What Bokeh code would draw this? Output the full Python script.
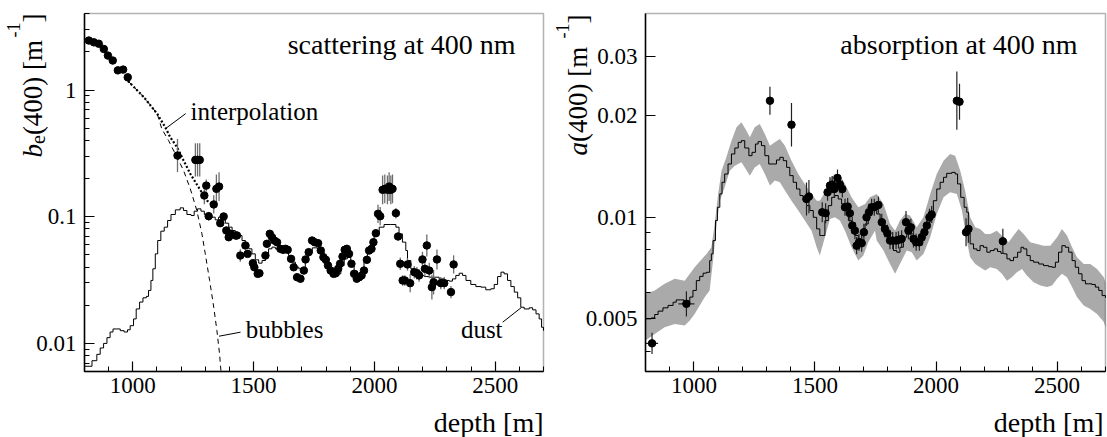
import math
from bokeh.plotting import figure
from bokeh.models import (Range1d, FixedTicker, CustomJSTickFormatter, Label, LinearAxis,
                          LogAxis, BoxAnnotation)
from bokeh.layouts import row
from bokeh.embed import file_html
from bokeh.resources import INLINE

SERIF = "Liberation Serif"

# ---------------- axes ----------------
DEPTH_RANGE = (800, 2700)
X_MAJOR = [1000, 1500, 2000, 2500]
X_MINOR = [800, 900, 1100, 1200, 1300, 1400, 1600, 1700, 1800, 1900,
           2100, 2200, 2300, 2400, 2600, 2700]

SCAT_Y_RANGE = (0.006, 4.02)
SCAT_Y_MAJOR = [0.01, 0.1, 1]
SCAT_Y_MINOR = [0.006, 0.007, 0.008, 0.009, 0.02, 0.03, 0.04, 0.05, 0.06, 0.07, 0.08, 0.09,
                0.2, 0.3, 0.4, 0.5, 0.6, 0.7, 0.8, 0.9, 2, 3, 4]
ABS_Y_RANGE = (0.00349, 0.0402)
ABS_Y_MAJOR = [0.005, 0.01, 0.02, 0.03]
ABS_Y_MINOR = [0.004, 0.006, 0.007, 0.008, 0.009]

# ---------------- scattering panel ----------------
DUST = [(800, 0.0066), (831, 0.0073), (851, 0.0082), (865, 0.0092), (879, 0.0100), (893, 0.0111),
        (906, 0.0123), (918, 0.0130), (934, 0.0130), (948, 0.0126), (964, 0.0123), (978, 0.0128),
        (989, 0.0138), (1003, 0.0156), (1014, 0.0187), (1028, 0.0212), (1042, 0.0229), (1056, 0.0235),
        (1065, 0.0262), (1075, 0.0314), (1083, 0.0388), (1093, 0.0509), (1103, 0.0649), (1116, 0.0769),
        (1130, 0.0827), (1144, 0.0933), (1158, 0.1041), (1176, 0.1133), (1196, 0.1175), (1210, 0.1119),
        (1224, 0.1041), (1241, 0.1022), (1254, 0.1106), (1268, 0.1154), (1282, 0.1106), (1296, 0.1041),
        (1310, 0.0992), (1324, 0.0992), (1341, 0.0945), (1355, 0.0992), (1369, 0.0945), (1383, 0.0889),
        (1397, 0.0827), (1411, 0.0778), (1424, 0.0724), (1438, 0.0711), (1452, 0.0649), (1466, 0.0611),
        (1480, 0.0558), (1493, 0.0509), (1507, 0.0457), (1521, 0.0430), (1535, 0.0451), (1549, 0.0509),
        (1562, 0.0558), (1576, 0.0575), (1590, 0.0558), (1604, 0.0548), (1618, 0.0541), (1631, 0.0525),
        (1645, 0.0494), (1659, 0.0438), (1673, 0.0400), (1687, 0.0388), (1700, 0.0381), (1714, 0.0450),
        (1728, 0.0520), (1743, 0.0568), (1764, 0.0558), (1778, 0.0525), (1792, 0.0474), (1805, 0.0419),
        (1819, 0.0376), (1833, 0.0337), (1847, 0.0354), (1861, 0.0412), (1875, 0.0465), (1888, 0.0479),
        (1902, 0.0419), (1916, 0.0372), (1930, 0.0354), (1944, 0.0372), (1957, 0.0451), (1971, 0.0541),
        (1985, 0.0630), (1999, 0.0732), (2020, 0.0827), (2040, 0.0868), (2068, 0.0868), (2089, 0.0827),
        (2102, 0.0732), (2116, 0.0630), (2130, 0.0541), (2137, 0.0451), (2151, 0.0388), (2165, 0.0354),
        (2185, 0.0344), (2206, 0.0337), (2227, 0.0333), (2247, 0.0333), (2268, 0.0323), (2289, 0.0314),
        (2310, 0.0310), (2323, 0.0323), (2337, 0.0344), (2351, 0.0358), (2365, 0.0344), (2379, 0.0314),
        (2399, 0.0292), (2420, 0.0281), (2441, 0.0278), (2461, 0.0265), (2482, 0.0270), (2496, 0.0292),
        (2510, 0.0337), (2524, 0.0365), (2537, 0.0354), (2551, 0.0314), (2565, 0.0281), (2579, 0.0254),
        (2593, 0.0229), (2606, 0.0193), (2620, 0.0187), (2641, 0.0191), (2655, 0.0184), (2669, 0.0171),
        (2682, 0.0156), (2692, 0.0134), (2700, 0.0126)]

BUBBLES = [(980, 1.18), (1046, 0.877), (1101, 0.649), (1120, 0.494), (1148, 0.399), (1183, 0.295),
           (1210, 0.232), (1238, 0.166), (1265, 0.112), (1286, 0.0733), (1300, 0.0509), (1318, 0.0313),
           (1335, 0.0193), (1348, 0.01265), (1359, 0.00828), (1365, 0.0060)]

INTERPOLATION = [(980, 1.18), (1046, 0.877), (1101, 0.649), (1134, 0.509), (1155, 0.424),
                 (1183, 0.354), (1210, 0.278), (1238, 0.218), (1272, 0.171), (1307, 0.134),
                 (1335, 0.1226)]

# (depth, b_e, relative error)
SCAT_POINTS = [(818, 2.46, .03), (839, 2.38, .03), (859, 2.32, .03), (880, 2.11, .03), (897, 1.87, .03),
               (917, 1.71, .03), (938, 1.43, .03), (960, 1.45, .03), (979, 1.26, .03),
               (1185, 0.304, .35), (1259, 0.281, .35), (1268, 0.281, .35), (1277, 0.281, .35),
               (1296, 0.147, .17), (1304, 0.176, .12), (1314, 0.101, .08), (1335, 0.125, .18),
               (1346, 0.166, .30), (1357, 0.173, .30), (1362, 0.0889, .07), (1376, 0.1004, .07),
               (1387, 0.0778, .07), (1397, 0.0689, .07), (1404, 0.0733, .07), (1425, 0.0711, .07),
               (1431, 0.0711, .07), (1445, 0.0494, .12), (1466, 0.0593, .07), (1475, 0.0509, .06),
               (1497, 0.0430, .06), (1503, 0.0399, .06), (1517, 0.0354, .06), (1524, 0.0358, .06),
               (1549, 0.0494, .06), (1555, 0.0611, .06), (1567, 0.0733, .06), (1576, 0.0689, .06),
               (1586, 0.0649, .06), (1597, 0.0629, .06), (1611, 0.0558, .06), (1622, 0.0548, .06),
               (1632, 0.0558, .06), (1641, 0.0548, .06), (1655, 0.0465, .06), (1666, 0.0399, .06),
               (1680, 0.0333, .06), (1694, 0.0324, .06), (1708, 0.0376, .06), (1715, 0.0460, .06),
               (1728, 0.0525, .06), (1742, 0.0649, .06), (1753, 0.0629, .06), (1767, 0.0618, .06),
               (1778, 0.0541, .06), (1789, 0.0479, .06), (1799, 0.0457, .06), (1808, 0.0412, .06),
               (1819, 0.0376, .06), (1831, 0.0354, .06), (1840, 0.0358, .06), (1850, 0.0388, .06),
               (1858, 0.0425, .06), (1868, 0.0485, .06), (1877, 0.0548, .06), (1886, 0.0558, .06),
               (1895, 0.0509, .06), (1905, 0.0425, .06), (1916, 0.0354, .06), (1927, 0.0324, .06),
               (1937, 0.0333, .06), (1947, 0.0344, .06), (1957, 0.0376, .06), (1969, 0.0457, .06),
               (1978, 0.0541, .06), (1988, 0.0558, .06), (1996, 0.0629, .06), (2006, 0.0741, .06),
               (2015, 0.1054, .18), (2024, 0.1009, .18), (2034, 0.163, .30), (2043, 0.166, .30),
               (2054, 0.163, .30), (2061, 0.173, .30), (2068, 0.163, .30), (2075, 0.166, .30),
               (2089, 0.1066, .10), (2098, 0.0698, .07), (2107, 0.0425, .12), (2117, 0.0314, .10),
               (2126, 0.0314, .10), (2137, 0.0420, .12), (2148, 0.0299, .18), (2165, 0.0365, .12),
               (2176, 0.0358, .12), (2185, 0.0344, .12), (2199, 0.0460, .15), (2209, 0.0388, .15),
               (2217, 0.0593, .22), (2227, 0.0376, .15), (2238, 0.0278, .25), (2245, 0.0304, .25),
               (2259, 0.0460, .20), (2275, 0.0299, .12), (2289, 0.0299, .12), (2317, 0.0254, .12),
               (2328, 0.0420, .18)]

# ---------------- absorption panel ----------------
ABS_CURVE = [(800, 0.00500), (824, 0.00503), (838, 0.00515), (852, 0.00527), (872, 0.00539), (893, 0.00548),
             (914, 0.00560), (927, 0.00569), (945, 0.00569), (959, 0.00564), (969, 0.00557), (983, 0.00580),
             (996, 0.00607), (1010, 0.00649), (1024, 0.00668), (1038, 0.00683), (1052, 0.00687), (1065, 0.00744),
             (1072, 0.00779), (1079, 0.00853), (1089, 0.00978), (1097, 0.01071), (1107, 0.01173), (1116, 0.01270),
             (1127, 0.01344), (1141, 0.01439), (1155, 0.01541), (1169, 0.01605), (1183, 0.01668), (1196, 0.01687),
             (1210, 0.01605), (1227, 0.01523), (1240, 0.01558), (1254, 0.01649), (1265, 0.01676), (1279, 0.01631),
             (1293, 0.01523), (1309, 0.01439), (1327, 0.01439), (1341, 0.01479), (1355, 0.01506), (1369, 0.01472),
             (1383, 0.01406), (1396, 0.01329), (1410, 0.01270), (1424, 0.01213), (1438, 0.01160), (1451, 0.01120),
             (1465, 0.01083), (1479, 0.01047), (1493, 0.01000), (1507, 0.00924), (1520, 0.00883), (1527, 0.00883),
             (1541, 0.00978), (1555, 0.01083), (1569, 0.01146), (1582, 0.01160), (1596, 0.01133), (1610, 0.01095),
             (1624, 0.01047), (1638, 0.00978), (1651, 0.00934), (1665, 0.00883), (1679, 0.00863), (1693, 0.00893),
             (1707, 0.00956), (1720, 0.01012), (1734, 0.01071), (1748, 0.01083), (1755, 0.01023), (1769, 0.00978),
             (1783, 0.00934), (1796, 0.00893), (1810, 0.00843), (1824, 0.00797), (1838, 0.00788), (1851, 0.00815),
             (1865, 0.00873), (1879, 0.00934), (1893, 0.00893), (1907, 0.00843), (1920, 0.00843), (1934, 0.00853),
             (1948, 0.00913), (1962, 0.00967), (1976, 0.01023), (1989, 0.01120), (2003, 0.01213), (2017, 0.01270),
             (2031, 0.01314), (2044, 0.01350), (2065, 0.01359), (2079, 0.01344), (2089, 0.01256), (2102, 0.01146),
             (2116, 0.01071), (2127, 0.01035), (2134, 0.00934), (2141, 0.00834), (2155, 0.00806), (2169, 0.00797),
             (2182, 0.00824), (2196, 0.00815), (2210, 0.00788), (2224, 0.00797), (2240, 0.00806), (2254, 0.00792),
             (2268, 0.00782), (2282, 0.00779), (2293, 0.00753), (2306, 0.00744), (2320, 0.00761), (2337, 0.00788),
             (2351, 0.00815), (2362, 0.00806), (2375, 0.00770), (2389, 0.00744), (2403, 0.00736), (2424, 0.00727),
             (2444, 0.00719), (2465, 0.00714), (2479, 0.00711), (2493, 0.00736), (2506, 0.00788), (2520, 0.00824),
             (2534, 0.00815), (2548, 0.00788), (2562, 0.00744), (2575, 0.00711), (2589, 0.00680), (2603, 0.00649),
             (2617, 0.00635), (2631, 0.00635), (2644, 0.00632), (2658, 0.00621), (2672, 0.00607), (2686, 0.00586),
             (2700, 0.00577)]

ABS_BAND_UPPER = [(800, 0.00593), (838, 0.00607), (879, 0.00635), (921, 0.00657), (962, 0.00649), (1003, 0.00711),
                  (1052, 0.00779), (1072, 0.00815), (1086, 0.00956), (1100, 0.01173), (1114, 0.01375), (1134, 0.01506),
                  (1155, 0.01687), (1176, 0.01848), (1196, 0.01912), (1217, 0.01806), (1231, 0.01726), (1251, 0.01848),
                  (1272, 0.01890), (1293, 0.01766), (1314, 0.01631), (1334, 0.01668), (1355, 0.01707), (1376, 0.01631),
                  (1403, 0.01472), (1431, 0.01344), (1458, 0.01256), (1486, 0.01173), (1507, 0.01120), (1520, 0.01120),
                  (1541, 0.01186), (1562, 0.01299), (1582, 0.01344), (1603, 0.01329), (1624, 0.01256), (1651, 0.01146),
                  (1679, 0.01071), (1707, 0.01095), (1727, 0.01146), (1755, 0.01173), (1783, 0.01095), (1810, 0.00956),
                  (1831, 0.00913), (1851, 0.00978), (1872, 0.01023), (1893, 0.01012), (1920, 0.00934), (1948, 0.01000),
                  (1976, 0.01173), (2003, 0.01344), (2031, 0.01472), (2058, 0.01541), (2079, 0.01523), (2100, 0.01375),
                  (2120, 0.01200), (2141, 0.01000), (2162, 0.00934), (2182, 0.00924), (2203, 0.00893), (2224, 0.00893),
                  (2251, 0.00913), (2279, 0.00873), (2300, 0.00843), (2320, 0.00883), (2341, 0.00924), (2362, 0.00893),
                  (2389, 0.00843), (2417, 0.00834), (2444, 0.00824), (2472, 0.00824), (2500, 0.00873), (2520, 0.00924),
                  (2541, 0.00883), (2562, 0.00815), (2582, 0.00761), (2610, 0.00727), (2637, 0.00727), (2665, 0.00703),
                  (2693, 0.00664), (2700, 0.00642)]

ABS_BAND_LOWER = [(800, 0.00431), (838, 0.00451), (879, 0.00472), (921, 0.00483), (962, 0.00478), (983, 0.00494),
                  (1003, 0.00517), (1045, 0.00580), (1065, 0.00607), (1079, 0.00744), (1093, 0.00934), (1107, 0.01120),
                  (1127, 0.01227), (1148, 0.01375), (1169, 0.01422), (1196, 0.01455), (1210, 0.01406), (1231, 0.01329),
                  (1251, 0.01406), (1272, 0.01439), (1293, 0.01344), (1314, 0.01242), (1334, 0.01285), (1355, 0.01270),
                  (1376, 0.01200), (1403, 0.01120), (1431, 0.01047), (1458, 0.00978), (1486, 0.00913), (1507, 0.00815),
                  (1520, 0.00770), (1541, 0.00873), (1562, 0.00989), (1582, 0.01000), (1603, 0.00978), (1624, 0.00913),
                  (1651, 0.00815), (1679, 0.00744), (1700, 0.00770), (1720, 0.00843), (1748, 0.00913), (1755, 0.00853),
                  (1783, 0.00797), (1810, 0.00727), (1831, 0.00680), (1851, 0.00727), (1879, 0.00797), (1900, 0.00788),
                  (1920, 0.00744), (1948, 0.00779), (1976, 0.00873), (2003, 0.01023), (2031, 0.01146), (2058, 0.01186),
                  (2086, 0.01173), (2107, 0.01047), (2127, 0.00853), (2141, 0.00761), (2162, 0.00727), (2182, 0.00711),
                  (2203, 0.00695), (2224, 0.00711), (2251, 0.00703), (2272, 0.00680), (2293, 0.00649), (2313, 0.00664),
                  (2334, 0.00687), (2355, 0.00703), (2375, 0.00672), (2403, 0.00642), (2431, 0.00628), (2458, 0.00621),
                  (2479, 0.00628), (2500, 0.00657), (2520, 0.00680), (2541, 0.00664), (2562, 0.00621), (2582, 0.00580),
                  (2610, 0.00548), (2637, 0.00535), (2665, 0.00517), (2693, 0.00489), (2700, 0.00472)]

# (depth, a, relative error)
ABS_POINTS = [(827, 0.00423, .075), (969, 0.00554, .09), (1314, 0.02216, .10), (1403, 0.01882, .16),
              (1465, 0.01133, .12), (1475, 0.01152, .12), (1530, 0.01035, .07), (1544, 0.01028, .07),
              (1552, 0.01186, .06), (1562, 0.01242, .06), (1571, 0.01250, .06), (1580, 0.01213, .06),
              (1593, 0.01308, .06), (1603, 0.01250, .06), (1613, 0.01213, .06), (1624, 0.01071, .06),
              (1635, 0.01076, .06), (1644, 0.01028, .06), (1654, 0.00945, .06), (1665, 0.00913, .06),
              (1672, 0.00824, .06), (1682, 0.00843, .06), (1693, 0.00838, .06), (1702, 0.00903, .06),
              (1713, 0.01000, .06), (1723, 0.01035, .06), (1734, 0.01071, .06), (1745, 0.01071, .06),
              (1762, 0.01088, .06), (1776, 0.00967, .06), (1789, 0.00924, .06), (1799, 0.00897, .06),
              (1810, 0.00853, .06), (1821, 0.00853, .06), (1835, 0.00853, .06), (1845, 0.00857, .06),
              (1858, 0.00863, .06), (1876, 0.00967, .08), (1886, 0.00913, .06), (1896, 0.00934, .06),
              (1907, 0.00863, .06), (1918, 0.00843, .06), (1931, 0.00843, .06), (1941, 0.00873, .06),
              (1952, 0.00903, .06), (1962, 0.00945, .06), (1973, 0.01000, .06), (1982, 0.01019, .06),
              (2086, 0.02216, .22), (2097, 0.02201, .13), (2124, 0.00903, .10), (2134, 0.00924, .10),
              (2276, 0.00849, .09)]
# horizontal (depth) errors: (depth, a, half width in m)
ABS_DEPTH_ERR = [(827, 0.00423, 25), (969, 0.00554, 33)]

TITLES = ["scattering at 400 nm", "absorption at 400 nm"]
X_LABEL = "depth [m]"

# ---------------- layout (pixels) ----------------
FIG_H = 437
LEFT_W, RIGHT_W = 546, 561
LEFT_BOX = (84, 13, 543, 371)     # left, top, right, bottom of the plotting box
RIGHT_BOX = (99, 13, 559, 371)
BASE_SHIFT = 0.29                 # renderer draws 'alphabetic' text this many em too low

# Times / Liberation Serif advance widths (1/1000 em)
GLYPH_W = {" ": 250, "(": 333, ")": 333, "-": 333, "0": 500, "1": 500, "4": 500,
           "[": 333, "]": 333, "a": 444, "b": 500, "e": 444, "m": 778}


def text_w(s, size, italic=False):
    w = 0
    for c in s:
        w += 500 if (italic and c in "ab") else GLYPH_W[c]
    return w * size / 1000.0


def unzip(pairs):
    return [p[0] for p in pairs], [p[1] for p in pairs]


def add_text(p, x, y, text, size, align="left", units="screen", style="normal", rotated=False):
    shift = BASE_SHIFT * size
    p.add_layout(Label(x=x, y=y, x_units=units, y_units=units, text=text,
                       x_offset=(-shift if rotated else 0), y_offset=(0 if rotated else shift),
                       text_font=SERIF, text_font_size=f"{size}px", text_font_style=style,
                       text_align=align, text_baseline="alphabetic",
                       angle=(math.pi / 2 if rotated else 0.0), text_color="black"))


def add_ylabel(p, bottom_pieces, top_pieces, x_base, y_bottom, y_top):
    y = y_bottom
    for t, s, st, dx in bottom_pieces:
        add_text(p, x_base + dx, y, t, s, align="left", style=st, rotated=True)
        y += text_w(t, s, st == "italic")
    y = y_top
    for t, s, st, dx in reversed(top_pieces):
        add_text(p, x_base + dx, y, t, s, align="right", style=st, rotated=True)
        y -= text_w(t, s, st == "italic")


def style_axis(ax, major, minor, standoff):
    ax.ticker = FixedTicker(ticks=major, minor_ticks=minor)
    ax.formatter = CustomJSTickFormatter(code="return String(tick);")
    ax.major_tick_in = 10
    ax.major_tick_out = 0
    ax.minor_tick_in = 5
    ax.minor_tick_out = 0
    ax.axis_line_width = 1.5
    ax.axis_line_color = "black"
    ax.major_tick_line_color = "black"
    ax.minor_tick_line_color = "black"
    ax.major_tick_line_width = 1.2
    ax.minor_tick_line_width = 1
    ax.major_label_text_font = SERIF
    ax.major_label_text_font_size = "23px"
    ax.major_label_text_color = "black"
    ax.major_label_standoff = standoff


def make_panel(W, box, y_range, y_major, y_minor):
    bl, bt, br, bb = box
    x0, x1 = DEPTH_RANGE
    per = (x1 - x0) / (br - bl)
    xr = Range1d(x0 - bl * per, x1 + (W - br) * per)
    l0, l1 = math.log10(y_range[0]), math.log10(y_range[1])
    lper = (l1 - l0) / (bb - bt)
    yr = Range1d(10 ** (l0 - (FIG_H - bb) * lper), 10 ** (l1 + bt * lper))
    p = figure(width=W, height=FIG_H, x_range=xr, y_range=yr, y_axis_type="log",
               x_axis_location=None, y_axis_location=None,
               output_backend="svg", toolbar_location=None,
               min_border=0, min_border_left=0, min_border_right=0,
               min_border_top=0, min_border_bottom=0)
    p.outline_line_color = None
    p.background_fill_color = "white"
    p.border_fill_color = "white"
    p.xgrid.visible = False
    p.ygrid.visible = False
    xaxis = LinearAxis(fixed_location=y_range[0], bounds=DEPTH_RANGE)
    style_axis(xaxis, X_MAJOR, X_MINOR, 6)
    yaxis = LogAxis(fixed_location=x0, bounds=y_range)
    style_axis(yaxis, y_major, y_minor, 8)
    p.add_layout(xaxis, "below")
    p.add_layout(yaxis, "left")
    p.add_layout(BoxAnnotation(left=x0, right=x1, bottom=y_range[0], top=y_range[1],
                               fill_alpha=0, line_color="black", line_width=1.5))
    return p


# ================= left: scattering =================
p1 = make_panel(LEFT_W, LEFT_BOX, SCAT_Y_RANGE, SCAT_Y_MAJOR, SCAT_Y_MINOR)

dx_, dy_ = unzip(DUST)
p1.step(dx_, dy_, mode="after", line_color="black", line_width=1)
bx, by = unzip(BUBBLES)
p1.line(bx, by, line_color="black", line_width=1, line_dash="5 4")
ix, iy = unzip(INTERPOLATION)
p1.line(ix, iy, line_color="black", line_width=2.2, line_dash="2 2")

sd = [t[0] for t in SCAT_POINTS]
sv = [t[1] for t in SCAT_POINTS]
s_lo = [t[1] / (1 + t[2]) for t in SCAT_POINTS]
s_hi = [t[1] * (1 + t[2]) for t in SCAT_POINTS]
p1.segment(sd, s_lo, sd, s_hi, line_color="#6e6e6e", line_width=1.3)
p1.scatter(sd, sv, size=7.5, marker="circle", fill_color="black", line_color="black")

# annotation leaders
p1.segment([1136, 1357, 2531], [0.497, 0.0114, 0.0147], [1219, 1446, 2607], [0.652, 0.01226, 0.0191],
           line_color="black", line_width=1)
add_text(p1, 1239, 0.596, "interpolation", 25, units="data")
add_text(p1, 1467, 0.0112, "bubbles", 25, units="data")
add_text(p1, 2358, 0.0113, "dust", 25, units="data")

add_text(p1, 515, FIG_H - 52, TITLES[0], 28, align="right")
add_text(p1, 543, FIG_H - 430, X_LABEL, 28, align="right")
add_ylabel(p1,
           [("b", 27, "italic", 0), ("e", 20, "normal", 3), ("(400) [m", 27, "normal", 0)],
           [("-1", 18, "normal", -22), ("]", 27, "normal", 0)],
           40, FIG_H - 157, FIG_H - 13)

# ================= right: absorption =================
p2 = make_panel(RIGHT_W, RIGHT_BOX, ABS_Y_RANGE, ABS_Y_MAJOR, ABS_Y_MINOR)

ux, uy = unzip(ABS_BAND_UPPER)
lx, ly = unzip(ABS_BAND_LOWER)
p2.patch(ux + lx[::-1], uy + ly[::-1], fill_color="#aaaaaa", line_color=None)
cx, cy = unzip(ABS_CURVE)
p2.step(cx, cy, mode="after", line_color="black", line_width=1)

ad = [t[0] for t in ABS_POINTS]
av = [t[1] for t in ABS_POINTS]
a_lo = [t[1] / (1 + t[2]) for t in ABS_POINTS]
a_hi = [t[1] * (1 + t[2]) for t in ABS_POINTS]
p2.segment(ad, a_lo, ad, a_hi, line_color="#222222", line_width=1.2)
hd = [t[0] for t in ABS_DEPTH_ERR]
hv = [t[1] for t in ABS_DEPTH_ERR]
hw = [t[2] for t in ABS_DEPTH_ERR]
p2.segment([d - w for d, w in zip(hd, hw)], hv, [d + w for d, w in zip(hd, hw)], hv,
           line_color="#222222", line_width=1.2)
p2.scatter(ad, av, size=7.5, marker="circle", fill_color="black", line_color="black")

add_text(p2, 531, FIG_H - 52, TITLES[1], 28, align="right")
add_text(p2, 557, FIG_H - 430, X_LABEL, 28, align="right")
add_ylabel(p2,
           [("a", 27, "italic", 0), ("(400) [m", 27, "normal", 0)],
           [("-1", 18, "normal", -18), ("]", 27, "normal", 0)],
           39, FIG_H - 155, FIG_H - 14)

layout = row(p1, p2)
open("out.html", "w").write(file_html(layout, INLINE))
